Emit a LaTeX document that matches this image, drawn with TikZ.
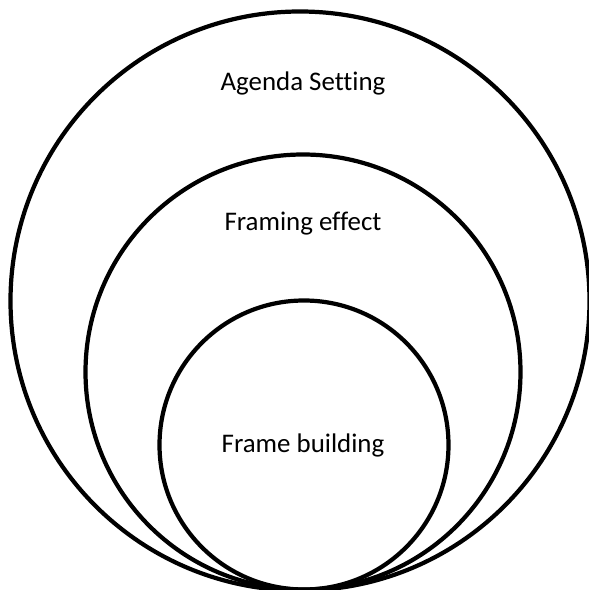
\documentclass[tikz,border=0pt]{standalone}
\usepackage{fontspec}
\setmainfont{Carlito}[Ligatures=NoCommon]
\begin{document}
\begin{tikzpicture}[ring/.style={line width=2.4pt},
  label/.style={font=\fontsize{15.3}{18}\selectfont}]
  \useasboundingbox (0,0) rectangle (11.78,11.8);
  \draw[ring] (6.00,5.78) circle(5.79);
  \draw[ring] (6.06,4.36) circle(4.35);
  \draw[ring] (6.08,2.90) circle(2.89);
  \node[label] (agenda)   at (6.06,10.14) {Agenda Setting};
  \node[label] (framing)  at (6.06,7.32)  {Framing effect};
  \node[label] (building) at (6.06,2.90)  {Frame building};
\end{tikzpicture}
\end{document}
